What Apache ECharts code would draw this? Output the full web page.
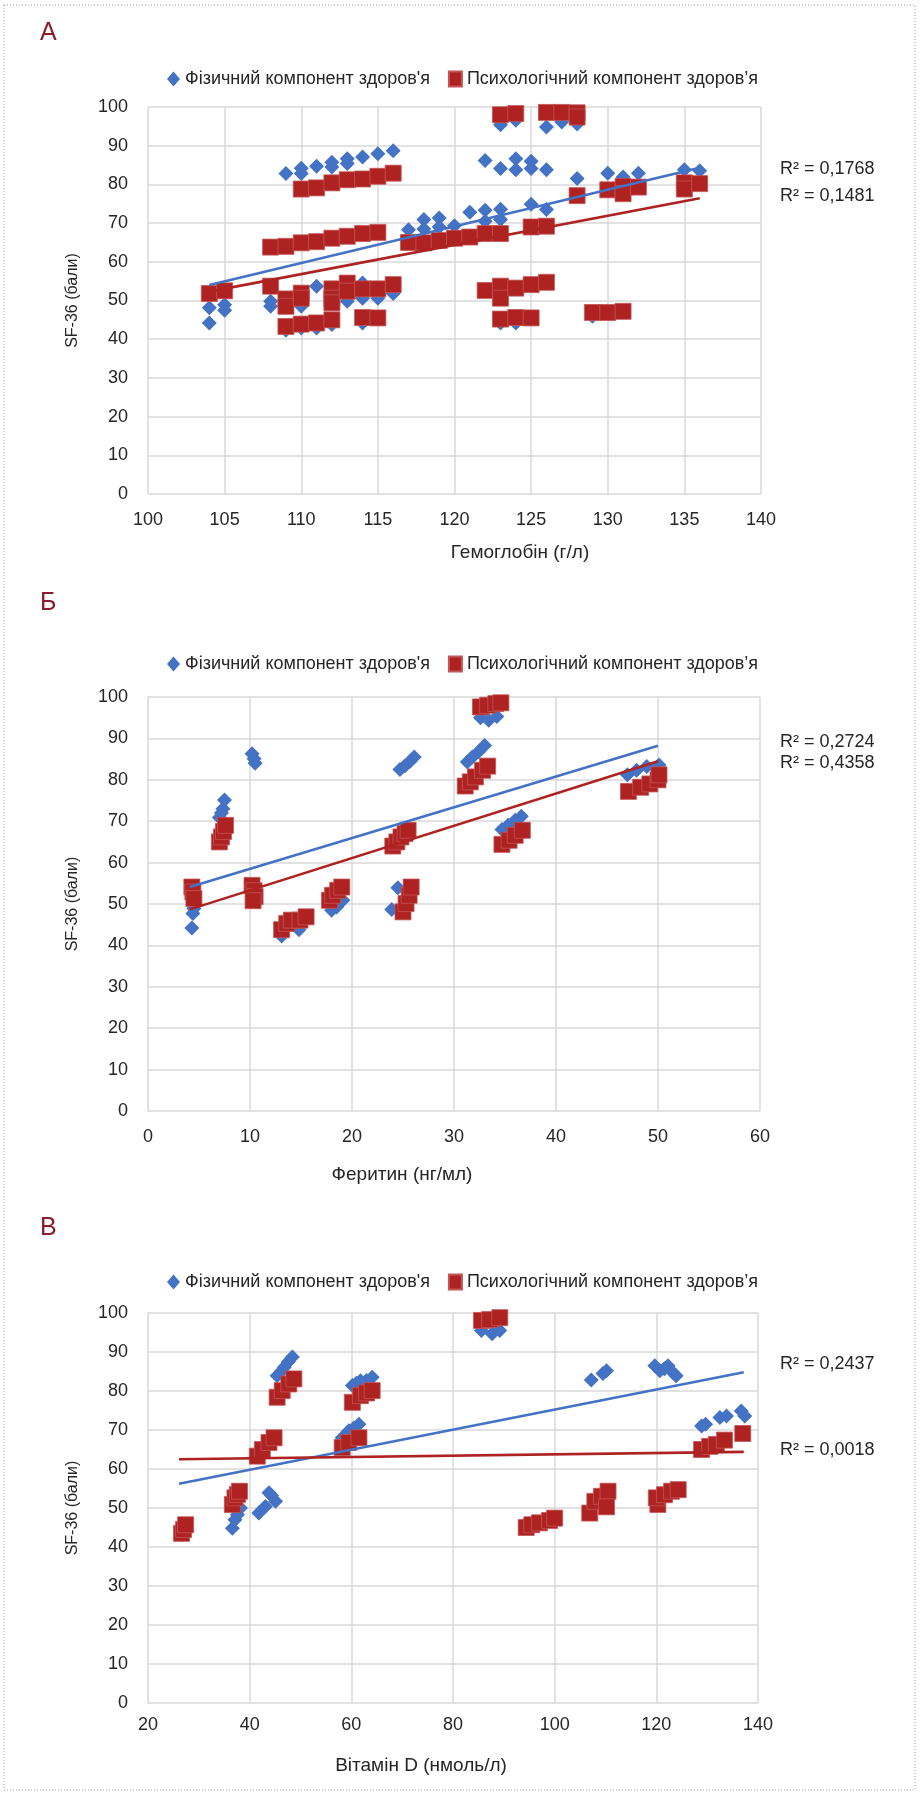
<!DOCTYPE html>
<html>
<head>
<meta charset="utf-8">
<script src="https://cdn.jsdelivr.net/npm/echarts@6/dist/echarts.min.js"></script>
<style>
  html, body { margin: 0; padding: 0; background: #fff; }
  #chart { width: 920px; height: 1794px; }
</style>
</head>
<body>
<div id="chart"></div>
<script>
// SF-36 component scores versus haemoglobin, ferritin and vitamin D levels
const FONT = '"Liberation Sans Narrow", "Arial Narrow", "Liberation Sans", Arial, sans-serif';
const TEXT_COLOR = '#262626';
const BLUE = '#4472C4';
const RED = '#AE2222';

const seriesNames = ["Фізичний компонент здоров'я", "Психологічний компонент здоров’я"];
const yAxisTitle = 'SF-36 (бали)';
const panelLetters = ['А', 'Б', 'В'];
const xAxisTitles = ['Гемоглобін (г/л)', 'Феритин (нг/мл)', 'Вітамін D (нмоль/л)'];
const r2Labels = [
  ['R² = 0,1768', 'R² = 0,1481'],
  ['R² = 0,2724', 'R² = 0,4358'],
  ['R² = 0,2437', 'R² = 0,0018']
];

// Panel А: haemoglobin (g/l)
const hemoglobinPhysical = [
  [104, 48.1], [104, 44.2], [105, 48.9], [105, 47.5], [108, 49.8], [108, 48.5],
  [109, 82.8], [109, 42.3], [110, 84.2], [110, 82.8], [110, 48.5], [110, 42.9],
  [111, 84.7], [111, 53.7], [111, 42.9], [112, 85.7], [112, 84.5], [112, 43.8],
  [113, 86.6], [113, 85.4], [113, 49.8], [114, 87.1], [114, 54.5], [114, 50.6], [114, 44.2],
  [115, 87.9], [115, 50.6], [116, 88.7], [116, 51.8], [117, 68.3], [118, 70.9], [118, 68.5],
  [119, 71.3], [119, 69.0], [120, 69.3], [121, 72.8], [122, 86.2], [122, 73.3], [122, 70.5],
  [123, 95.4], [123, 84.1], [123, 73.6], [123, 70.9], [123, 44.2],
  [124, 96.6], [124, 86.6], [124, 83.8], [124, 44.2], [125, 86.0], [125, 84.1], [125, 74.9],
  [126, 94.8], [126, 83.8], [126, 73.5], [127, 96.1], [128, 95.6], [128, 81.5],
  [129, 45.9], [130, 82.9], [131, 81.9], [132, 82.9], [135, 83.8], [136, 83.5]
];
const hemoglobinPsych = [
  [104, 51.8], [105, 52.5], [108, 63.8], [108, 53.7], [109, 64.0], [109, 50.4], [109, 48.5], [109, 43.3],
  [110, 78.8], [110, 64.9], [110, 51.9], [110, 50.6], [110, 43.9], [111, 79.1], [111, 65.2], [111, 44.2],
  [112, 80.4], [112, 66.1], [112, 53.0], [112, 50.6], [112, 49.4], [112, 45.0],
  [113, 81.2], [113, 66.6], [113, 54.5], [113, 52.4], [114, 81.4], [114, 67.3], [114, 53.0], [114, 45.6],
  [115, 82.1], [115, 67.6], [115, 53.0], [115, 45.5], [116, 82.9], [116, 54.1],
  [117, 65.0], [118, 64.9], [119, 65.5], [120, 66.1], [121, 66.4], [122, 67.3], [122, 52.6],
  [123, 98.0], [123, 67.3], [123, 53.7], [123, 50.6], [123, 45.2], [124, 98.3], [124, 53.2], [124, 45.6],
  [125, 69.0], [125, 54.1], [125, 45.5], [126, 98.6], [126, 69.2], [126, 54.7], [127, 98.6],
  [128, 98.5], [128, 97.4], [128, 77.1], [129, 46.9], [130, 78.6], [130, 46.9],
  [131, 79.5], [131, 77.6], [131, 47.2], [132, 79.3], [135, 80.4], [135, 78.8], [136, 80.2]
];
const hemoglobinTrendPhysical = [[104, 54.0], [136, 84.3]];
const hemoglobinTrendPsych = [[104, 52.3], [136, 76.4]];

// Panel Б: ferritin (ng/ml)
const ferritinPhysical = [
  [4.3, 44.2], [4.4, 47.7], [4.5, 48.9], [4.6, 50.0],
  [7.0, 70.9], [7.2, 72.0], [7.35, 73.0], [7.5, 75.1],
  [10.2, 86.3], [10.4, 85.1], [10.5, 84.0],
  [13.1, 42.3], [14.8, 43.8],
  [18.0, 48.5], [18.5, 49.3], [19.1, 50.9],
  [23.9, 48.7], [24.5, 53.9],
  [24.7, 82.5], [25.2, 83.4], [25.7, 84.5], [26.1, 85.5],
  [31.3, 84.3], [31.8, 85.5], [32.4, 86.8], [33.0, 88.3],
  [32.6, 95.0], [33.4, 94.4], [34.2, 95.3],
  [34.7, 68.0], [35.3, 69.0], [36.0, 70.2], [36.6, 71.2],
  [47.0, 81.2], [47.9, 82.3], [48.9, 83.2], [50.1, 83.6]
];
const ferritinPsych = [
  [4.3, 54.1], [4.4, 52.9], [4.5, 51.3],
  [7.0, 65.0], [7.2, 66.2], [7.4, 67.5], [7.6, 69.0],
  [10.2, 54.5], [10.4, 53.2], [10.5, 51.8], [10.3, 50.8],
  [13.1, 43.8], [13.6, 45.3], [14.05, 46.1], [14.9, 46.1], [15.5, 46.9],
  [17.8, 50.9], [18.1, 52.1], [18.6, 53.3], [19.0, 54.1],
  [24.0, 64.0], [24.4, 65.0], [24.8, 66.2], [25.2, 67.0], [25.5, 67.8],
  [25.0, 48.1], [25.3, 50.1], [25.6, 52.1], [25.8, 54.1],
  [32.6, 97.6], [33.3, 98.0], [34.1, 98.4], [34.6, 98.6],
  [31.1, 78.5], [31.6, 79.5], [32.1, 80.7], [32.8, 82.3], [33.3, 83.3],
  [34.7, 64.4], [35.4, 65.4], [36.0, 66.6], [36.7, 67.8],
  [47.1, 77.2], [48.3, 78.2], [49.2, 79.0], [50.0, 80.0], [50.1, 81.2]
];
const ferritinTrendPhysical = [[4.1, 54.1], [50, 88.2]];
const ferritinTrendPsych = [[4.1, 48.7], [50, 84.5]];

// Panel В: vitamin D (nmol/l)
const vitaminDPhysical = [
  [26.5, 43.2], [27.2, 44.5],
  [36.6, 44.8], [37.1, 47.0], [37.6, 48.3], [38.2, 50.0],
  [41.8, 48.7], [43.1, 50.4], [43.8, 53.9], [44.3, 53.2], [45.1, 51.7],
  [45.4, 83.9], [46.2, 85.0], [46.8, 86.1], [47.6, 87.5], [48.4, 88.7],
  [58.2, 68.0], [59.0, 68.8], [59.5, 69.8], [60.5, 70.5], [61.5, 71.5],
  [60.2, 81.4], [61.0, 82.0], [61.8, 82.6], [63.0, 82.7], [64.1, 83.5],
  [85.6, 95.5], [87.7, 94.7], [89.2, 95.5],
  [107.2, 82.8], [109.5, 84.5], [110.2, 85.2],
  [119.7, 86.5], [120.7, 85.2], [121.6, 85.7], [122.3, 86.5], [123.2, 84.8], [123.9, 83.9],
  [128.9, 71.0], [129.7, 71.5], [132.5, 73.2], [133.8, 73.6], [136.7, 74.9], [137.4, 73.6]
];
const vitaminDPsych = [
  [26.6, 43.5], [27.0, 44.5], [27.4, 45.7],
  [36.6, 50.9], [37.1, 52.6], [37.6, 53.5], [38.0, 54.3],
  [41.5, 63.3], [42.5, 65.0], [43.8, 66.8], [44.8, 68.0],
  [45.4, 78.4], [46.4, 80.1], [47.7, 81.8], [48.7, 83.1],
  [58.2, 65.5], [59.5, 66.8], [61.5, 68.0],
  [60.2, 77.1], [61.8, 78.8], [63.0, 79.5], [64.1, 80.1],
  [85.6, 98.1], [87.2, 98.3], [89.2, 98.8],
  [94.4, 45.0], [95.5, 45.7], [97.0, 46.2], [99.0, 46.8], [100.0, 47.4],
  [106.9, 48.7], [107.9, 51.7], [109.2, 53.0], [110.5, 54.3], [110.2, 50.3],
  [120.3, 50.9], [120.0, 52.6], [121.6, 53.4], [123.0, 54.3], [124.3, 54.7],
  [128.9, 65.0], [130.5, 65.8], [131.8, 66.3], [133.4, 67.4], [137.0, 69.1]
];
const vitaminDTrendPhysical = [[26.1, 56.2], [137.2, 84.8]];
const vitaminDTrendPsych = [[26.1, 62.5], [137.2, 64.4]];

const xRanges = [[100, 140, 5], [0, 60, 10], [20, 140, 20]];
const yRange = [0, 100, 10];

// Layout of the three stacked panels
const grids = [
  { left: 148, top: 107, width: 613, height: 387 },
  { left: 148, top: 697, width: 612, height: 414 },
  { left: 148, top: 1313, width: 610, height: 390 }
];
const legendTops = [65, 650, 1268];
const letterY = [33, 603, 1228];
const xTitlePos = [[520, 553], [402, 1175], [421, 1766]];
const r2Pos = [[169, 196], [742, 763], [1364, 1450]];
const xLabelMargin = [17, 17, 13];

const panels = [
  [hemoglobinPhysical, hemoglobinPsych, hemoglobinTrendPhysical, hemoglobinTrendPsych],
  [ferritinPhysical, ferritinPsych, ferritinTrendPhysical, ferritinTrendPsych],
  [vitaminDPhysical, vitaminDPsych, vitaminDTrendPhysical, vitaminDTrendPsych]
];

const gridLine = { show: true, lineStyle: { color: '#d9d9d9', width: 1.5 } };
const labelStyle = { fontSize: 18, color: TEXT_COLOR, fontFamily: FONT };

const xAxes = xRanges.map((r, i) => ({
  type: 'value', gridIndex: i, min: r[0], max: r[1], interval: r[2],
  axisLine: { show: false }, axisTick: { show: false },
  splitLine: gridLine,
  axisLabel: Object.assign({ margin: xLabelMargin[i] }, labelStyle)
}));

const yAxes = grids.map((g, i) => ({
  type: 'value', gridIndex: i, min: yRange[0], max: yRange[1], interval: yRange[2],
  axisLine: { show: false }, axisTick: { show: false },
  splitLine: gridLine,
  axisLabel: Object.assign({ margin: 20 }, labelStyle),
  name: yAxisTitle, nameLocation: 'middle', nameGap: 67,
  nameTextStyle: { fontSize: 16, color: TEXT_COLOR, fontFamily: FONT }
}));

const series = [];
panels.forEach((p, i) => {
  series.push({
    name: seriesNames[0], type: 'scatter', xAxisIndex: i, yAxisIndex: i,
    symbol: 'diamond', symbolSize: 15, data: p[0],
    itemStyle: { color: BLUE, opacity: 1 }, z: 2
  });
  series.push({
    name: seriesNames[1], type: 'scatter', xAxisIndex: i, yAxisIndex: i,
    symbol: 'rect', symbolSize: 16, data: p[1],
    itemStyle: { color: RED, borderColor: '#c45656', borderWidth: 0.8, opacity: 1 }, z: 3
  });
  series.push({
    name: 'trend-phys-' + i, type: 'line', xAxisIndex: i, yAxisIndex: i,
    data: p[2], symbol: 'none', silent: true,
    lineStyle: { color: BLUE, width: 2.6 }, z: 4
  });
  series.push({
    name: 'trend-psych-' + i, type: 'line', xAxisIndex: i, yAxisIndex: i,
    data: p[3], symbol: 'none', silent: true,
    lineStyle: { color: RED, width: 2.6 }, z: 4
  });
});

const legends = legendTops.map(top => ({
  top: top, left: 162, itemGap: 18, itemWidth: 13, itemHeight: 15,
  selectedMode: false,
  textStyle: { fontSize: 18, color: TEXT_COLOR, fontFamily: FONT },
  data: [
    { name: seriesNames[0], icon: 'diamond', itemStyle: { color: BLUE } },
    { name: seriesNames[1], icon: 'rect', itemStyle: { color: RED } }
  ]
}));

const texts = [];
panelLetters.forEach((t, i) => {
  texts.push({ type: 'text', x: 40, y: letterY[i],
    style: { text: t, fontSize: 25, fill: '#8a1c2b', fontFamily: FONT, verticalAlign: 'middle' } });
});
xAxisTitles.forEach((t, i) => {
  texts.push({ type: 'text', x: xTitlePos[i][0], y: xTitlePos[i][1],
    style: { text: t, fontSize: 19, fill: TEXT_COLOR, fontFamily: FONT, align: 'center', verticalAlign: 'middle' } });
});
r2Labels.forEach((pair, i) => {
  pair.forEach((t, j) => {
    texts.push({ type: 'text', x: 780, y: r2Pos[i][j],
      style: { text: t, fontSize: 18, fill: TEXT_COLOR, fontFamily: FONT, verticalAlign: 'middle' } });
  });
});
texts.push({ type: 'rect', shape: { x: 4, y: 5, width: 911, height: 1785 },
  style: { fill: 'none', stroke: '#9a9a9a', lineWidth: 1, lineDash: [1, 2] }, silent: true });

const chart = echarts.init(document.getElementById('chart'), null, { renderer: 'canvas' });
chart.setOption({
  animation: false,
  backgroundColor: '#fff',
  grid: grids,
  xAxis: xAxes,
  yAxis: yAxes,
  legend: legends,
  series: series,
  graphic: texts
});
</script>
</body>
</html>
